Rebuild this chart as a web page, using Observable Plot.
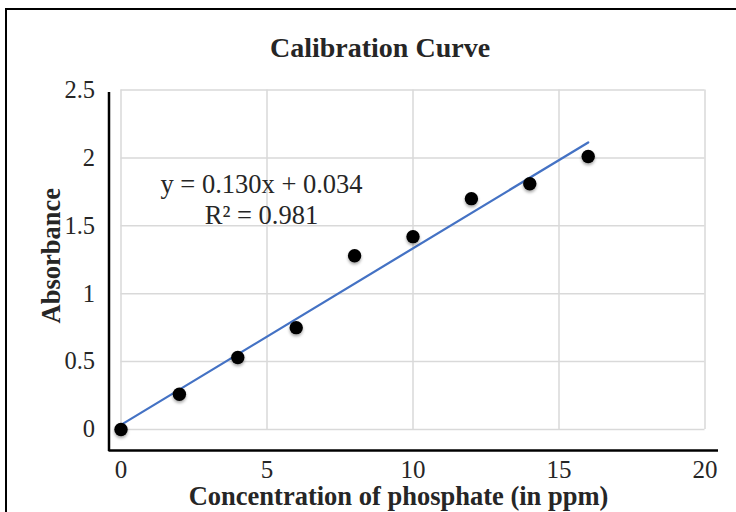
<!DOCTYPE html>
<html><head><meta charset="utf-8">
<script src="https://cdn.jsdelivr.net/npm/d3@7"></script>
<script src="https://cdn.jsdelivr.net/npm/@observablehq/plot@0.6"></script>
<style>
html,body{margin:0;padding:0;background:#fff;}
#wrap{position:relative;width:736px;height:512px;overflow:hidden;}
#border{position:absolute;left:5px;top:8px;width:800px;height:600px;border-left:2.5px solid #000;border-top:2.5px solid #000;}
#chart{position:absolute;left:0;top:0;}
g[aria-label="dot"] circle{filter:drop-shadow(0.5px 2px 1.5px rgba(0,0,0,0.35));}
</style></head><body>
<div id="wrap"><div id="border"></div><div id="chart"></div></div>
<script>
const concentration = [0, 2, 4, 6, 8, 10, 12, 14, 16];
const absorbance = [0, 0.26, 0.53, 0.75, 1.28, 1.42, 1.70, 1.81, 2.01];
const xTicks = [0, 5, 10, 15, 20];
const yTicks = [0, 0.5, 1, 1.5, 2, 2.5];
const trendSlope = 0.130;
const trendIntercept = 0.034;
const rSquared = 0.981;
const title = "Calibration Curve";
const xLabel = "Concentration of phosphate (in ppm)";
const yLabel = "Absorbance";

const points = concentration.map((x, i) => ({x, y: absorbance[i]}));
const trend = d3.extent(concentration).map(x => ({x, y: trendSlope * x + trendIntercept}));
const eqText = `y = ${trendSlope.toFixed(3)}x + ${trendIntercept.toFixed(3)}\nR² = ${rSquared.toFixed(3)}`;

const serif = "Liberation Serif, Times New Roman, serif";
const ink = "#262626";

const chart = Plot.plot({
  width: 736,
  height: 512,
  marginLeft: 120.5,
  marginRight: 31.5,
  marginTop: 89.5,
  marginBottom: 83,
  style: {background: "transparent", overflow: "visible"},
  x: {domain: [0, 20]},
  y: {domain: [0, 2.5]},
  marks: [
    Plot.gridX(xTicks, {stroke: "#d9d9d9", strokeOpacity: 1, strokeWidth: 1.5}),
    Plot.gridY(yTicks, {stroke: "#d9d9d9", strokeOpacity: 1, strokeWidth: 1.5}),
    Plot.axisX(xTicks, {tickSize: 0, tickPadding: 31, fontSize: 25, fontFamily: serif, fill: ink, label: null, tickFormat: d => String(d)}),
    Plot.axisY(yTicks, {tickSize: 0, tickPadding: 26, fontSize: 24.5, fontFamily: serif, fill: ink, label: null, tickFormat: d => String(d)}),
    Plot.ruleY([0], {dy: 21, insetLeft: -12, insetRight: -13.5, stroke: "#000", strokeWidth: 2.5}),
    Plot.ruleX([0], {dx: -12, insetTop: 2.5, insetBottom: -22, stroke: "#000", strokeWidth: 2.5}),
    Plot.line(trend, {x: "x", y: "y", stroke: "#4472C4", strokeWidth: 2.25}),
    Plot.dot(points, {x: "x", y: "y", r: 6.7, fill: "#000", stroke: null}),
    Plot.text([eqText], {text: d => d, frameAnchor: "top-left", dx: 140.5, dy: 81, textAnchor: "middle", lineAnchor: "top", lineHeight: 1.16, fontSize: 26.5, fontFamily: serif, fill: ink}),
    Plot.text([title], {text: d => d, frameAnchor: "top", lineAnchor: "middle", dx: -33, dy: -42, fontSize: 28, fontWeight: "bold", fontFamily: serif, fill: ink}),
    Plot.text([xLabel], {text: d => d, frameAnchor: "bottom", lineAnchor: "middle", dx: -14.5, dy: 67.5, fontSize: 26.5, fontWeight: "bold", fontFamily: serif, fill: ink}),
    Plot.text([yLabel], {text: d => d, frameAnchor: "left", textAnchor: "middle", lineAnchor: "middle", rotate: -90, dx: -69, dy: -4, fontSize: 26.5, fontWeight: "bold", fontFamily: serif, fill: ink})
  ]
});
document.getElementById("chart").appendChild(chart);
</script>
</body></html>
